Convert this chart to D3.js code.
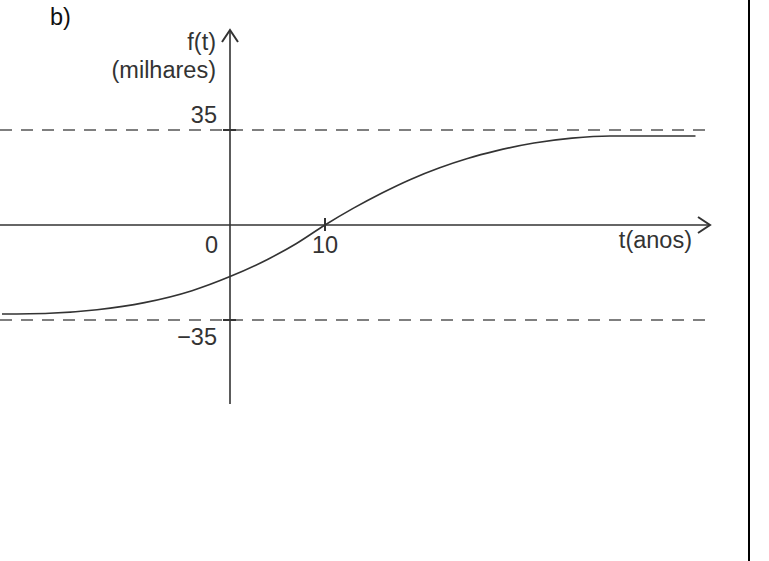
<!DOCTYPE html>
<html>
<head>
<meta charset="utf-8">
<script src="https://cdn.jsdelivr.net/npm/d3@7"></script>
<style>
  body { margin: 0; background: #fff; }
  text { font-family: "Liberation Sans", Arial, sans-serif; fill: #333; }
</style>
</head>
<body>
<div id="chart"></div>
<script>
// curve f(t) (thousands)
var tValues = [-24, -19, -14, -9, -4, 0, 4, 7, 10, 13, 16, 19, 22, 25, 28, 32, 36, 40, 49];
var fValues = [-32.8, -32.5, -31.2, -28.6, -24.2, -19.0, -12.6, -6.8, 0, 6.2, 11.8, 16.8, 21.0, 24.5, 27.3, 30.2, 32.0, 32.8, 32.8];

// asymptotes and tick labels
var asymptotes = [35, -35];
var yTickValues = [35, -35];
var yTickLabels = ["35", "\u221235"];
var xTickValues = [10];
var xTickLabels = ["10"];

var width = 769, height = 561;
var ink = "#333";
var fs = 23.5;

var svg = d3.select("#chart").append("svg")
            .attr("width", width)
            .attr("height", height);

// scales: origin at (230, 225)
var x = d3.scaleLinear().domain([0, 10]).range([230, 325]);
var y = d3.scaleLinear().domain([-35, 35]).range([320, 130]);

// dashed asymptotes
svg.selectAll(".asym")
   .data(asymptotes)
   .enter().append("line")
   .attr("class", "asym")
   .attr("x1", 0)
   .attr("x2", 707)
   .attr("y1", function(d) { return y(d); })
   .attr("y2", function(d) { return y(d); })
   .attr("stroke", "#555")
   .attr("stroke-width", 1.5)
   .attr("stroke-dasharray", "12,9");

// horizontal axis + arrow
svg.append("line")
   .attr("x1", 0).attr("x2", 710)
   .attr("y1", y(0)).attr("y2", y(0))
   .attr("stroke", ink).attr("stroke-width", 1.6);
svg.append("path")
   .attr("d", "M698,217 L710," + y(0) + " L698,233")
   .attr("fill", "none").attr("stroke", ink).attr("stroke-width", 2);

// vertical axis + arrow
svg.append("line")
   .attr("x1", x(0)).attr("x2", x(0))
   .attr("y1", 404).attr("y2", 30)
   .attr("stroke", ink).attr("stroke-width", 1.6);
svg.append("path")
   .attr("d", "M222,42 L" + x(0) + ",30 L238,42")
   .attr("fill", "none").attr("stroke", ink).attr("stroke-width", 2);

// y ticks
svg.selectAll(".ytick")
   .data(yTickValues)
   .enter().append("line")
   .attr("x1", x(0) - 7).attr("x2", x(0) + 6)
   .attr("y1", function(d) { return y(d); })
   .attr("y2", function(d) { return y(d); })
   .attr("stroke", ink).attr("stroke-width", 2);

svg.selectAll(".ylab")
   .data(yTickValues)
   .enter().append("text")
   .attr("x", 217)
   .attr("y", function(d) { return d > 0 ? y(d) - 7 : y(d) + 25; })
   .attr("text-anchor", "end")
   .attr("font-size", fs)
   .text(function(d, i) { return yTickLabels[i]; });

// x ticks
svg.selectAll(".xtick")
   .data(xTickValues)
   .enter().append("line")
   .attr("x1", function(d) { return x(d); })
   .attr("x2", function(d) { return x(d); })
   .attr("y1", y(0) - 7).attr("y2", y(0) + 6)
   .attr("stroke", ink).attr("stroke-width", 2);

svg.selectAll(".xlab")
   .data(xTickValues)
   .enter().append("text")
   .attr("x", function(d) { return x(d); })
   .attr("y", 253)
   .attr("text-anchor", "middle")
   .attr("font-size", fs)
   .text(function(d, i) { return xTickLabels[i]; });

// origin label
svg.append("text")
   .attr("x", 218).attr("y", 253)
   .attr("text-anchor", "end")
   .attr("font-size", fs)
   .text("0");

// the curve
var pts = tValues.map(function(t, i) { return [t, fValues[i]]; });
var line = d3.line()
             .x(function(d) { return x(d[0]); })
             .y(function(d) { return y(d[1]); })
             .curve(d3.curveMonotoneX);
svg.append("path")
   .datum(pts)
   .attr("d", line)
   .attr("fill", "none")
   .attr("stroke", ink)
   .attr("stroke-width", 1.6);

// axis titles
svg.append("text").attr("x", 216).attr("y", 50)
   .attr("text-anchor", "end").attr("font-size", fs).text("f(t)");
svg.append("text").attr("x", 216).attr("y", 78)
   .attr("text-anchor", "end").attr("font-size", fs).text("(milhares)");
svg.append("text").attr("x", 692).attr("y", 248)
   .attr("text-anchor", "end").attr("font-size", fs).text("t(anos)");

// panel label
svg.append("text").attr("x", 50).attr("y", 25)
   .attr("font-size", fs).style("fill", "#111").text("b)");

// right frame line
svg.append("line")
   .attr("x1", 749).attr("x2", 749)
   .attr("y1", 0).attr("y2", height)
   .attr("stroke", "#000").attr("stroke-width", 2);
</script>
</body>
</html>
